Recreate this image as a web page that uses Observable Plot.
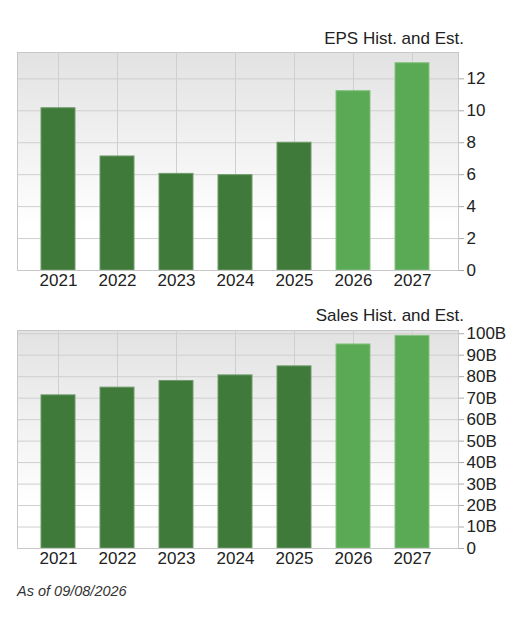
<!DOCTYPE html>
<html>
<head>
<meta charset="utf-8">
<script src="https://cdn.jsdelivr.net/npm/d3@7"></script>
<script src="https://cdn.jsdelivr.net/npm/@observablehq/plot@0.6"></script>
<style>
  html, body { margin: 0; padding: 0; background: #fff; }
  #root { position: relative; width: 527px; height: 620px; font-family: "Liberation Sans", Arial, sans-serif; }
  .title { position: absolute; right: 63px; font-size: 17px; line-height: 17px; color: #222; white-space: nowrap; }
  .chart { position: absolute; left: 0; }
  .caption { position: absolute; left: 17px; font-size: 14.5px; line-height: 15px; font-style: italic; color: #333; }
</style>
</head>
<body>
<div id="root">
  <div class="title" id="epsTitle" style="top:30px">EPS Hist. and Est.</div>
  <div class="chart" id="eps" style="top:50px"></div>
  <div class="title" id="salesTitle" style="top:307px">Sales Hist. and Est.</div>
  <div class="chart" id="sales" style="top:328px"></div>
  <div class="caption" style="top:584px">As of 09/08/2026</div>
</div>
<script>
const years = ["2021", "2022", "2023", "2024", "2025", "2026", "2027"];
const kinds = ["Hist", "Hist", "Hist", "Hist", "Hist", "Est", "Est"];
const epsValues = [10.16, 7.14, 6.05, 5.97, 8.0, 11.23, 12.98];
const salesValues = [71.3, 74.9, 78.0, 80.6, 84.8, 95.0, 99.0]; // billions
const epsTicks = [0, 2, 4, 6, 8, 10, 12];
const salesTicks = [0, 10, 20, 30, 40, 50, 60, 70, 80, 90, 100];

const fillColors = ["#3f7a3a", "#5aaa55"];
const strokeColors = ["#6f9c6b", "#85c280"];

function gradientDefs(id) {
  return () => {
    const defs = d3.create("svg:defs");
    const g = defs.append("linearGradient").attr("id", id)
      .attr("x1", 0).attr("y1", 0).attr("x2", 0).attr("y2", 1);
    g.append("stop").attr("offset", "0%").attr("stop-color", "#e2e2e2");
    g.append("stop").attr("offset", "80%").attr("stop-color", "#ffffff");
    return defs.node();
  };
}

function makeChart(values, ticks, yMax, fmt, gradId, height, marginBottom) {
  const data = years.map((y, i) => ({year: y, value: values[i], kind: kinds[i]}));
  return Plot.plot({
    width: 527,
    height,
    marginLeft: 17,
    marginRight: 69,
    marginTop: 2,
    marginBottom,
    style: {fontSize: "17px", fontFamily: "'Liberation Sans', Arial, sans-serif", color: "#222", background: "transparent", overflow: "visible"},
    x: {domain: years, paddingInner: 0.428, paddingOuter: 0.426, align: 0.455, label: null},
    y: {domain: [0, yMax], label: null},
    color: {domain: ["Hist", "Est"], range: fillColors},
    marks: [
      gradientDefs(gradId),
      Plot.frame({fill: `url(#${gradId})`, stroke: null}),
      Plot.gridY(ticks, {stroke: "#cfcfcf", strokeOpacity: 1}),
      Plot.gridX({stroke: "#cfcfcf", strokeOpacity: 1}),
      Plot.barY(data, {x: "year", y: "value", fill: "kind",
        stroke: d => d.kind === "Hist" ? strokeColors[0] : strokeColors[1], strokeWidth: 1}),
      Plot.frame({stroke: "#c8c8c8", fill: null}),
      Plot.axisX({tickSize: 0, tickPadding: 3, label: null, fill: "#222"}),
      Plot.axisY(ticks, {anchor: "right", tickSize: 5, stroke: "#aaa", text: null, label: null}),
      Plot.axisY(ticks, {anchor: "right", tickSize: 0, tickPadding: 8, tickFormat: fmt, fill: "#222", label: null})
    ]
  });
}

document.getElementById("eps").append(
  makeChart(epsValues, epsTicks, 13.65, d => String(d), "gEps", 240, 20)
);
document.getElementById("sales").append(
  makeChart(salesValues, salesTicks, 101.5, d => d === 0 ? "0" : d + "B", "gSales", 242, 22)
);
</script>
</body>
</html>
